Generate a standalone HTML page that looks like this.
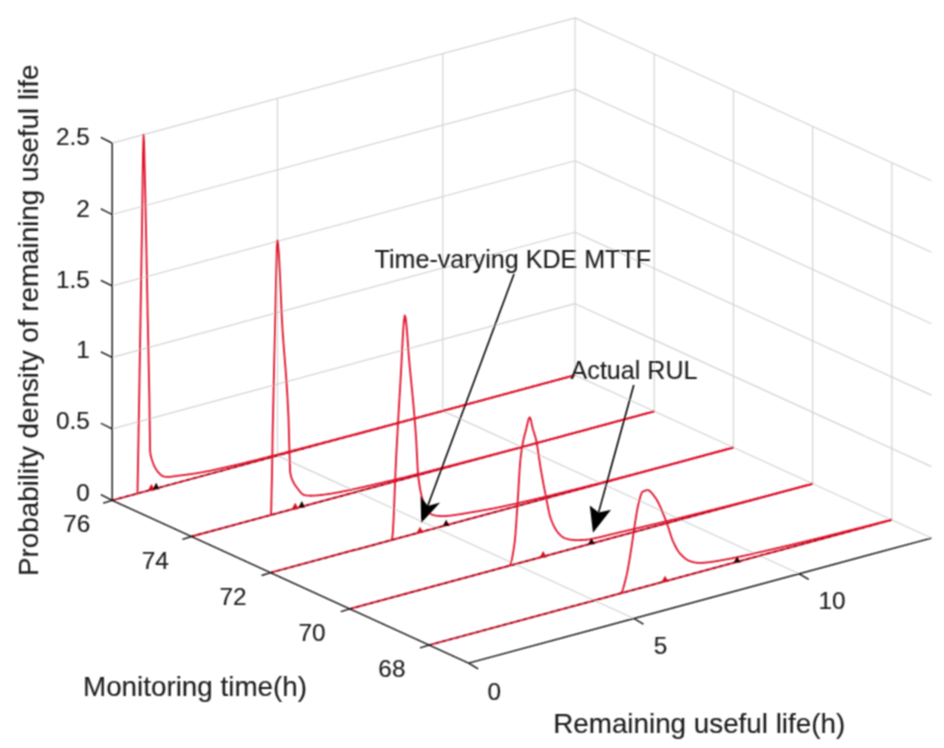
<!DOCTYPE html>
<html><head><meta charset="utf-8"><style>
html,body{margin:0;padding:0;background:#fff;}
svg{display:block;font-family:"Liberation Sans",sans-serif;}
</style></head><body>
<svg width="944" height="748" viewBox="0 0 944 748">
<defs><filter id="bl" filterUnits="userSpaceOnUse" x="0" y="0" width="944" height="748"><feConvolveMatrix order="3" kernelMatrix="1 2 1 2 4 2 1 2 1" divisor="16" preserveAlpha="false" edgeMode="none"/></filter></defs>
<rect width="944" height="748" fill="#fff"/>
<g filter="url(#bl)">
<line x1="112.20" y1="500.30" x2="575.04" y2="375.14" stroke="#d4d4d4" stroke-width="1.2"/>
<line x1="112.20" y1="428.85" x2="575.04" y2="303.69" stroke="#d4d4d4" stroke-width="1.2"/>
<line x1="112.20" y1="357.40" x2="575.04" y2="232.24" stroke="#d4d4d4" stroke-width="1.2"/>
<line x1="112.20" y1="285.95" x2="575.04" y2="160.79" stroke="#d4d4d4" stroke-width="1.2"/>
<line x1="112.20" y1="214.50" x2="575.04" y2="89.34" stroke="#d4d4d4" stroke-width="1.2"/>
<line x1="112.20" y1="143.05" x2="575.04" y2="17.89" stroke="#d4d4d4" stroke-width="1.2"/>
<line x1="112.20" y1="500.30" x2="112.20" y2="143.05" stroke="#d4d4d4" stroke-width="1.2"/>
<line x1="277.50" y1="455.60" x2="277.50" y2="98.35" stroke="#d4d4d4" stroke-width="1.2"/>
<line x1="442.80" y1="410.90" x2="442.80" y2="53.65" stroke="#d4d4d4" stroke-width="1.2"/>
<line x1="575.04" y1="375.14" x2="931.44" y2="538.04" stroke="#d4d4d4" stroke-width="1.2"/>
<line x1="575.04" y1="303.69" x2="931.44" y2="466.59" stroke="#d4d4d4" stroke-width="1.2"/>
<line x1="575.04" y1="232.24" x2="931.44" y2="395.14" stroke="#d4d4d4" stroke-width="1.2"/>
<line x1="575.04" y1="160.79" x2="931.44" y2="323.69" stroke="#d4d4d4" stroke-width="1.2"/>
<line x1="575.04" y1="89.34" x2="931.44" y2="252.24" stroke="#d4d4d4" stroke-width="1.2"/>
<line x1="575.04" y1="17.89" x2="931.44" y2="180.79" stroke="#d4d4d4" stroke-width="1.2"/>
<line x1="575.04" y1="375.14" x2="575.04" y2="17.89" stroke="#d4d4d4" stroke-width="1.2"/>
<line x1="654.24" y1="411.34" x2="654.24" y2="54.09" stroke="#d4d4d4" stroke-width="1.2"/>
<line x1="733.44" y1="447.54" x2="733.44" y2="90.29" stroke="#d4d4d4" stroke-width="1.2"/>
<line x1="812.64" y1="483.74" x2="812.64" y2="126.49" stroke="#d4d4d4" stroke-width="1.2"/>
<line x1="891.84" y1="519.94" x2="891.84" y2="162.69" stroke="#d4d4d4" stroke-width="1.2"/>
<line x1="277.50" y1="455.60" x2="633.90" y2="618.50" stroke="#d4d4d4" stroke-width="1.2"/>
<line x1="442.80" y1="410.90" x2="799.20" y2="573.80" stroke="#d4d4d4" stroke-width="1.2"/>
<line x1="112.20" y1="500.30" x2="575.04" y2="375.14" stroke="#e0122c" stroke-width="1.9"/>
<line x1="112.20" y1="500.30" x2="575.04" y2="375.14" stroke="#3a0810" stroke-width="1.3" stroke-dasharray="3 4" opacity="0.9"/>
<polyline points="137.49,493.46 138.32,446.08 138.59,431.01 139.14,399.84 139.68,367.63 140.63,309.70 140.78,300.76 141.88,235.50 142.05,224.86 142.97,154.65 143.51,134.58 144.07,142.84 145.17,189.85 145.89,225.11 146.26,242.58 147.36,299.76 147.74,319.21 148.46,352.46 149.39,399.93 149.55,412.29 150.09,450.76 150.65,455.27 151.75,459.16 152.10,460.21 152.84,462.53 153.94,465.33 154.72,466.94 155.04,467.54 156.13,469.39 157.23,470.97 158.33,472.31 158.81,472.83 159.42,473.47 160.52,474.56 161.62,475.51 162.71,476.20 163.41,476.45 163.81,476.54 164.91,476.73 166.00,476.85 167.10,476.91 168.20,476.90 169.29,476.86 169.99,476.81 170.39,476.78 171.49,476.67 172.58,476.54 173.68,476.39 174.78,476.22 175.87,476.06 176.97,475.89 178.07,475.74 178.32,475.70 179.16,475.60 180.26,475.46 181.36,475.33 182.45,475.19 183.55,475.06 184.65,474.93 185.74,474.79 186.84,474.65 187.94,474.51 189.03,474.35 189.23,474.33 190.13,474.19 191.23,474.03 192.32,473.87 193.42,473.71 194.51,473.54 195.61,473.38 196.71,473.21 197.80,473.03 198.90,472.85 200.00,472.67 201.09,472.48 202.19,472.29 203.29,472.09 204.38,471.89 205.10,471.75 205.48,471.67 206.58,471.46 207.67,471.24 208.77,471.02 209.87,470.80 210.96,470.58 212.06,470.35 213.16,470.13 214.25,469.90 215.35,469.66 216.45,469.43 217.54,469.20 218.64,468.96 219.74,468.72 220.83,468.48 221.93,468.23 223.03,467.99 224.12,467.74 225.22,467.49 226.32,467.24 227.41,466.98 227.91,466.87 228.51,466.73 229.61,466.47 230.70,466.21 231.80,465.95 232.90,465.69 233.99,465.43 235.09,465.17 236.19,464.91 237.28,464.64 238.38,464.38 239.48,464.11 240.57,463.85 241.67,463.58 242.77,463.32 243.86,463.05 244.96,462.78 246.06,462.51 247.15,462.24 248.25,461.97 249.35,461.70 250.44,461.43 251.54,461.16 252.64,460.88 253.73,460.61 254.83,460.33 255.93,460.06 257.02,459.78 258.12,459.51 259.22,459.23 260.31,458.95 260.97,458.78 261.41,458.67 262.50,458.39 263.60,458.11 264.70,457.83 265.79,457.56 266.89,457.28 267.99,456.99 269.08,456.71 270.18,456.43 271.28,456.15 272.37,455.87 273.47,455.59 274.57,455.31 275.66,455.02 276.76,454.74 277.86,454.46 278.95,454.18 280.05,453.89 281.15,453.61 282.24,453.33 283.34,453.04 284.44,452.76 285.53,452.47 286.63,452.19 287.73,451.90 288.82,451.62 289.92,451.34 291.02,451.05 292.11,450.76 293.21,450.48 294.31,450.19 295.40,449.91 296.50,449.62 297.60,449.34 298.69,449.05 299.79,448.76 300.89,448.48 301.98,448.19 303.08,447.90 304.18,447.62 305.27,447.33 306.37,447.04 307.47,446.76 308.56,446.47 309.66,446.18 310.56,445.95 310.76,445.89 311.85,445.61 312.95,445.32 314.05,445.03 315.14,444.74 316.24,444.46 317.34,444.17 318.43,443.88 319.53,443.59 320.63,443.30 321.72,443.02 322.82,442.73 323.92,442.44 325.01,442.15 326.11,441.86 327.21,441.57 328.30,441.29 329.40,441.00 330.50,440.71 331.59,440.42 332.69,440.13 333.78,439.84 334.88,439.55 335.98,439.26 337.07,438.97 338.17,438.68 339.27,438.40 340.36,438.11 341.46,437.82 342.56,437.53 343.65,437.24 344.75,436.95 345.85,436.66 346.94,436.37 348.04,436.08 349.14,435.79 350.23,435.50 351.33,435.21 352.43,434.92 353.52,434.63 354.62,434.34 355.72,434.05 356.81,433.76 357.91,433.47 359.01,433.18 360.10,432.89 361.20,432.60 362.30,432.31 363.39,432.02 364.49,431.73 365.59,431.44 366.68,431.14 367.78,430.85 368.88,430.56 369.97,430.27 371.07,429.98 372.17,429.69 373.26,429.40 374.36,429.11 375.46,428.82 376.55,428.53 376.68,428.49 377.65,428.24 378.75,427.95 379.84,427.66 380.94,427.37 382.04,427.07 383.13,426.78 384.23,426.49 385.33,426.20 386.42,425.91 387.52,425.62 388.62,425.33 389.71,425.04 390.81,424.75 391.91,424.46 393.00,424.17 394.10,423.88 395.20,423.59 396.29,423.30 397.39,423.01 398.49,422.72 399.58,422.43 400.68,422.14 401.77,421.85 402.87,421.56 403.97,421.27 405.06,420.98 406.16,420.69 407.26,420.40 408.35,420.11 409.45,419.82 410.55,419.53 411.64,419.23 412.74,418.94 413.84,418.65 414.93,418.36 416.03,418.07 417.13,417.78 418.22,417.49 419.32,417.19 420.42,416.90 421.51,416.61 422.61,416.32 423.71,416.03 424.80,415.73 425.90,415.44 427.00,415.15 428.09,414.85 429.19,414.56 430.29,414.27 431.38,413.97 432.48,413.68 433.58,413.38 434.67,413.09 435.77,412.80 436.87,412.50 437.96,412.21 439.06,411.91 440.16,411.61 441.25,411.32 442.35,411.02 442.80,410.90 443.45,410.73 444.54,410.43 445.64,410.13 446.74,409.84 447.83,409.54 448.93,409.24 450.03,408.95 451.12,408.65 452.22,408.35 453.32,408.06 454.41,407.76 455.51,407.46 456.61,407.17 457.70,406.87 458.80,406.57 459.90,406.28 460.99,405.98 462.09,405.68 463.19,405.39 464.28,405.09 465.38,404.79 466.48,404.50 467.57,404.20 468.67,403.90 469.77,403.61 470.86,403.31 471.96,403.02 473.05,402.72 474.15,402.42 475.25,402.13 476.34,401.83 477.44,401.53 478.54,401.24 479.63,400.94 480.73,400.64 481.83,400.35 482.92,400.05 484.02,399.75 485.12,399.46 486.21,399.16 487.31,398.86 488.41,398.57 489.50,398.27 490.60,397.97 491.70,397.68 492.79,397.38 493.89,397.08 494.99,396.79 496.08,396.49 497.18,396.19 498.28,395.90 499.37,395.60 500.47,395.30 501.57,395.01 502.66,394.71 503.76,394.42 504.86,394.12 505.95,393.82 507.05,393.53 508.15,393.23 509.24,392.93 510.34,392.64 511.44,392.34 512.53,392.04 513.63,391.75 514.73,391.45 515.82,391.15 516.92,390.86 518.02,390.56 519.11,390.26 520.21,389.97 521.31,389.67 522.40,389.37 523.50,389.08 524.60,388.78 525.69,388.48 526.79,388.19 527.89,387.89 528.98,387.59 530.08,387.30 531.18,387.00 532.27,386.71 533.37,386.41 534.47,386.11 535.56,385.82 536.66,385.52 537.76,385.22 538.85,384.93 539.95,384.63 541.04,384.33 542.14,384.04 543.24,383.74 544.33,383.44 545.43,383.15 546.53,382.85 547.62,382.55 548.72,382.26 549.82,381.96 550.91,381.66 552.01,381.37 553.11,381.07 554.20,380.77 555.30,380.48 556.40,380.18 557.49,379.88 558.59,379.59 559.69,379.29 560.78,379.00 561.88,378.70 562.98,378.40 564.07,378.11 565.17,377.81 566.27,377.51 567.36,377.22 568.46,376.92 569.56,376.62 570.65,376.33 571.75,376.03 572.85,375.73 573.94,375.44 575.04,375.14" fill="none" stroke="#e0122c" stroke-width="1.8" stroke-linejoin="round"/>
<polygon points="148.01,490.50 154.81,490.50 151.41,484.10" fill="#d00818"/>
<polygon points="152.77,489.21 159.57,489.21 156.17,482.81" fill="#200606"/>
<line x1="191.40" y1="536.50" x2="654.24" y2="411.34" stroke="#e0122c" stroke-width="1.9"/>
<line x1="191.40" y1="536.50" x2="654.24" y2="411.34" stroke="#3a0810" stroke-width="1.3" stroke-dasharray="3 4" opacity="0.9"/>
<polyline points="271.07,514.95 272.03,472.58 272.73,428.77 273.00,416.17 273.96,373.32 274.92,333.23 275.04,328.11 275.88,288.33 276.84,248.02 277.36,240.32 277.80,241.56 278.76,252.23 279.72,270.51 280.68,292.33 281.64,313.63 282.31,326.14 282.60,330.58 283.56,344.13 284.52,356.28 285.48,368.23 286.44,381.19 287.40,396.37 288.36,414.96 288.60,420.19 289.32,447.94 290.08,471.52 290.28,472.79 291.24,477.26 292.20,479.78 293.16,481.68 293.22,481.81 294.12,483.58 295.08,485.15 296.04,486.49 296.86,487.55 297.00,487.73 297.96,488.99 298.92,490.26 299.88,491.49 300.84,492.61 301.80,493.59 302.76,494.36 303.73,494.88 304.13,495.01 304.69,495.14 305.65,495.33 306.61,495.48 307.57,495.59 308.53,495.67 309.49,495.71 310.45,495.73 311.41,495.73 312.37,495.70 313.33,495.66 314.29,495.60 315.25,495.53 316.21,495.45 317.03,495.38 317.17,495.37 318.13,495.28 319.09,495.19 320.05,495.09 321.01,494.99 321.97,494.88 322.93,494.77 323.89,494.66 324.85,494.53 325.81,494.41 326.77,494.28 327.73,494.14 328.69,494.00 329.65,493.85 330.61,493.71 331.57,493.55 332.53,493.40 333.50,493.23 334.46,493.07 335.42,492.90 336.38,492.73 337.34,492.55 338.30,492.37 339.26,492.19 339.84,492.07 340.22,492.00 341.18,491.81 342.14,491.62 343.10,491.42 344.06,491.23 345.02,491.03 345.98,490.84 346.94,490.64 347.90,490.44 348.86,490.23 349.82,490.03 350.78,489.82 351.74,489.62 352.70,489.41 353.66,489.20 354.62,488.99 355.58,488.78 356.54,488.57 357.50,488.36 358.46,488.14 359.42,487.93 360.38,487.71 361.34,487.49 362.30,487.28 363.26,487.06 364.23,486.84 365.19,486.62 366.15,486.40 367.11,486.18 368.07,485.96 369.03,485.73 369.99,485.51 370.95,485.29 371.91,485.07 372.87,484.84 373.23,484.76 373.83,484.62 374.79,484.39 375.75,484.17 376.71,483.95 377.67,483.72 378.63,483.50 379.59,483.27 380.55,483.05 381.51,482.82 382.47,482.60 383.43,482.37 384.39,482.14 385.35,481.92 386.31,481.69 387.27,481.46 388.23,481.24 389.19,481.01 390.15,480.78 391.11,480.55 392.07,480.33 393.03,480.10 393.99,479.87 394.96,479.64 395.92,479.41 396.88,479.18 397.84,478.95 398.80,478.72 399.76,478.48 400.72,478.25 401.68,478.02 402.64,477.79 403.60,477.55 404.56,477.32 405.52,477.08 406.48,476.85 407.44,476.62 408.40,476.38 409.36,476.14 410.32,475.91 411.28,475.67 412.24,475.43 413.20,475.19 414.16,474.95 415.12,474.72 416.08,474.48 417.04,474.24 418.00,473.99 418.96,473.75 419.92,473.51 420.88,473.27 421.84,473.02 422.80,472.78 422.82,472.78 423.76,472.54 424.72,472.29 425.69,472.05 426.65,471.80 427.61,471.56 428.57,471.31 429.53,471.07 430.49,470.82 431.45,470.57 432.41,470.33 433.37,470.08 434.33,469.83 435.29,469.59 436.25,469.34 437.21,469.09 438.17,468.85 439.13,468.60 440.09,468.35 441.05,468.10 442.01,467.86 442.97,467.61 443.93,467.36 444.89,467.11 445.85,466.86 446.81,466.61 447.77,466.37 448.73,466.12 449.69,465.87 450.65,465.62 451.61,465.37 452.57,465.12 453.53,464.87 454.49,464.62 455.45,464.37 456.42,464.12 457.38,463.87 458.34,463.62 459.30,463.37 460.26,463.12 461.22,462.87 462.18,462.62 463.14,462.37 464.10,462.12 465.06,461.87 466.02,461.62 466.98,461.36 467.94,461.11 468.90,460.86 469.86,460.61 470.82,460.36 471.78,460.11 472.74,459.86 473.70,459.61 474.66,459.35 475.62,459.10 476.58,458.85 477.54,458.60 478.50,458.35 479.46,458.10 480.42,457.84 481.38,457.59 482.34,457.34 483.30,457.09 484.26,456.84 485.22,456.59 486.19,456.33 487.15,456.08 488.11,455.83 488.94,455.61 489.07,455.58 490.03,455.33 490.99,455.07 491.95,454.82 492.91,454.57 493.87,454.32 494.83,454.07 495.79,453.82 496.75,453.57 497.71,453.31 498.67,453.06 499.63,452.81 500.59,452.56 501.55,452.31 502.51,452.06 503.47,451.81 504.43,451.56 505.39,451.30 506.35,451.05 507.31,450.80 508.27,450.55 509.23,450.30 510.19,450.05 511.15,449.80 512.11,449.55 513.07,449.29 514.03,449.04 514.99,448.79 515.95,448.54 516.92,448.29 517.88,448.04 518.84,447.78 519.80,447.53 520.76,447.28 521.72,447.03 522.68,446.77 523.64,446.52 524.60,446.27 525.56,446.02 526.52,445.76 527.48,445.51 528.44,445.26 529.40,445.00 530.36,444.75 531.32,444.50 532.28,444.24 533.24,443.99 534.20,443.74 535.16,443.48 536.12,443.23 537.08,442.97 538.04,442.72 539.00,442.46 539.96,442.21 540.92,441.95 541.88,441.70 542.84,441.44 543.80,441.18 544.76,440.93 545.72,440.67 546.68,440.41 547.65,440.16 548.61,439.90 549.57,439.64 550.53,439.38 551.49,439.12 552.45,438.87 553.41,438.61 554.37,438.35 555.06,438.16 555.33,438.09 556.29,437.83 557.25,437.57 558.21,437.31 559.17,437.05 560.13,436.79 561.09,436.53 562.05,436.27 563.01,436.01 563.97,435.75 564.93,435.49 565.89,435.23 566.85,434.97 567.81,434.71 568.77,434.45 569.73,434.19 570.69,433.93 571.65,433.67 572.61,433.41 573.57,433.15 574.53,432.89 575.49,432.63 576.45,432.37 577.41,432.11 578.38,431.86 579.34,431.60 580.30,431.34 581.26,431.08 582.22,430.82 583.18,430.56 584.14,430.30 585.10,430.04 586.06,429.78 587.02,429.52 587.98,429.26 588.94,429.00 589.90,428.74 590.86,428.48 591.82,428.22 592.78,427.96 593.74,427.70 594.70,427.44 595.66,427.18 596.62,426.92 597.58,426.66 598.54,426.40 599.50,426.14 600.46,425.88 601.42,425.62 602.38,425.36 603.34,425.10 604.30,424.84 605.26,424.58 606.22,424.32 607.18,424.06 608.14,423.80 609.11,423.55 610.07,423.29 611.03,423.03 611.99,422.77 612.95,422.51 613.91,422.25 614.87,421.99 615.83,421.73 616.79,421.47 617.75,421.21 618.71,420.95 619.67,420.69 620.63,420.43 621.59,420.17 622.55,419.91 623.51,419.65 624.47,419.39 625.43,419.13 626.39,418.87 627.35,418.61 628.31,418.35 629.27,418.09 630.23,417.83 631.19,417.57 632.15,417.31 633.11,417.05 634.07,416.79 635.03,416.53 635.99,416.27 636.95,416.01 637.91,415.75 638.87,415.49 639.84,415.24 640.80,414.98 641.76,414.72 642.72,414.46 643.68,414.20 644.64,413.94 645.60,413.68 646.56,413.42 647.52,413.16 648.48,412.90 649.44,412.64 650.40,412.38 651.36,412.12 652.32,411.86 653.28,411.60 654.24,411.34" fill="none" stroke="#e0122c" stroke-width="1.8" stroke-linejoin="round"/>
<polygon points="291.81,509.23 298.61,509.23 295.21,502.83" fill="#d00818"/>
<polygon points="298.42,507.44 305.22,507.44 301.82,501.04" fill="#200606"/>
<line x1="270.60" y1="572.70" x2="733.44" y2="447.54" stroke="#e0122c" stroke-width="1.9"/>
<line x1="270.60" y1="572.70" x2="733.44" y2="447.54" stroke="#3a0810" stroke-width="1.3" stroke-dasharray="3 4" opacity="0.9"/>
<polyline points="391.93,539.89 392.79,533.60 393.64,517.94 394.50,497.05 395.35,475.09 396.21,456.18 396.23,455.85 397.07,440.45 397.92,424.98 398.78,409.86 399.63,395.17 400.49,380.97 400.53,380.38 401.35,365.52 402.20,348.46 403.06,332.58 403.91,320.67 404.77,315.51 404.82,315.48 405.62,317.96 406.48,325.40 407.34,335.97 408.19,347.82 409.05,359.09 409.45,363.67 409.90,368.38 410.76,377.10 411.62,385.74 412.47,394.52 413.33,403.63 414.18,413.29 414.74,419.97 415.04,423.71 415.90,435.44 416.20,440.01 416.75,450.57 417.61,468.08 418.01,473.68 418.46,477.80 419.32,484.26 420.18,489.28 421.03,493.35 421.68,496.12 421.89,496.95 422.74,500.30 423.60,503.32 424.45,505.92 425.31,508.02 425.98,509.25 426.17,509.53 427.02,510.71 427.88,511.72 428.73,512.57 429.59,513.27 430.45,513.83 431.27,514.25 431.30,514.26 432.16,514.61 433.01,514.91 433.87,515.16 434.73,515.37 435.58,515.54 436.44,515.68 437.29,515.79 438.15,515.88 439.01,515.95 439.21,515.96 439.86,516.00 440.72,516.04 441.57,516.07 442.43,516.08 443.29,516.09 444.14,516.07 445.00,516.05 445.85,516.01 446.71,515.95 447.56,515.89 448.13,515.83 448.42,515.80 449.28,515.71 450.13,515.62 450.99,515.52 451.84,515.42 452.70,515.31 453.56,515.20 454.41,515.08 455.27,514.96 456.12,514.84 456.98,514.71 457.84,514.58 458.69,514.45 459.55,514.32 460.40,514.18 461.26,514.04 462.12,513.90 462.97,513.76 463.83,513.61 464.68,513.47 465.54,513.32 466.39,513.17 467.25,513.03 468.11,512.88 468.96,512.73 469.82,512.58 470.67,512.44 471.53,512.29 472.27,512.16 472.39,512.14 473.24,512.00 474.10,511.85 474.95,511.71 475.81,511.56 476.67,511.42 477.52,511.27 478.38,511.13 479.23,510.98 480.09,510.83 480.95,510.68 481.80,510.53 482.66,510.38 483.51,510.23 484.37,510.08 485.22,509.93 486.08,509.78 486.94,509.62 487.79,509.47 488.65,509.31 489.50,509.16 490.36,509.00 491.22,508.84 492.07,508.67 492.93,508.51 493.78,508.35 494.64,508.18 495.50,508.01 496.35,507.84 497.21,507.67 498.06,507.49 498.92,507.32 499.78,507.14 500.04,507.08 500.63,506.96 501.49,506.78 502.34,506.60 503.20,506.41 504.05,506.23 504.91,506.05 505.77,505.86 506.62,505.68 507.48,505.49 508.33,505.31 509.19,505.12 510.05,504.93 510.90,504.74 511.76,504.55 512.61,504.37 513.47,504.18 514.33,503.98 515.18,503.79 516.04,503.60 516.89,503.41 517.75,503.22 518.61,503.02 519.46,502.83 520.32,502.63 521.17,502.44 522.03,502.24 522.89,502.04 523.74,501.85 524.60,501.65 525.45,501.45 526.31,501.25 527.16,501.05 528.02,500.85 528.88,500.65 529.73,500.45 530.59,500.25 531.44,500.05 532.30,499.84 533.16,499.64 534.01,499.43 534.87,499.23 535.08,499.18 535.72,499.03 536.58,498.82 537.44,498.61 538.29,498.41 539.15,498.20 540.00,498.00 540.86,497.79 541.72,497.58 542.57,497.38 543.43,497.17 544.28,496.96 545.14,496.75 545.99,496.55 546.85,496.34 547.71,496.13 548.56,495.92 549.42,495.71 550.27,495.50 551.13,495.29 551.99,495.09 552.84,494.88 553.70,494.67 554.55,494.46 555.41,494.24 556.27,494.03 557.12,493.82 557.98,493.61 558.83,493.40 559.69,493.19 560.55,492.98 561.40,492.77 562.26,492.55 563.11,492.34 563.97,492.13 564.82,491.91 565.68,491.70 566.54,491.49 567.39,491.27 568.25,491.06 569.10,490.85 569.96,490.63 570.82,490.42 571.67,490.20 572.53,489.99 573.38,489.77 574.24,489.56 575.10,489.34 575.95,489.12 576.81,488.91 577.66,488.69 578.52,488.48 579.38,488.26 580.23,488.04 581.09,487.82 581.94,487.61 582.80,487.39 583.65,487.17 584.51,486.95 584.67,486.91 585.37,486.73 586.22,486.52 587.08,486.30 587.93,486.08 588.79,485.86 589.65,485.64 590.50,485.42 591.36,485.20 592.21,484.98 593.07,484.76 593.93,484.55 594.78,484.33 595.64,484.11 596.49,483.89 597.35,483.67 598.21,483.45 599.06,483.23 599.92,483.01 600.77,482.79 601.63,482.56 602.49,482.34 603.34,482.12 604.20,481.90 605.05,481.68 605.91,481.46 606.76,481.24 607.62,481.02 608.48,480.80 609.33,480.58 610.19,480.35 611.04,480.13 611.90,479.91 612.76,479.69 613.61,479.47 614.47,479.24 615.32,479.02 616.18,478.80 617.04,478.58 617.89,478.35 618.75,478.13 619.60,477.91 620.46,477.69 621.32,477.46 622.17,477.24 623.03,477.02 623.88,476.79 624.74,476.57 625.59,476.35 626.45,476.12 627.31,475.90 628.16,475.67 629.02,475.45 629.87,475.22 630.73,475.00 631.59,474.78 632.44,474.55 633.30,474.33 634.15,474.10 634.26,474.07 635.01,473.88 635.87,473.65 636.72,473.43 637.58,473.20 638.43,472.98 639.29,472.75 640.15,472.53 641.00,472.30 641.86,472.08 642.71,471.86 643.57,471.63 644.42,471.41 645.28,471.18 646.14,470.96 646.99,470.73 647.85,470.51 648.70,470.28 649.56,470.06 650.42,469.83 651.27,469.61 652.13,469.38 652.98,469.16 653.84,468.93 654.70,468.71 655.55,468.48 656.41,468.26 657.26,468.03 658.12,467.81 658.98,467.58 659.83,467.35 660.69,467.13 661.54,466.90 662.40,466.68 663.26,466.45 664.11,466.22 664.97,466.00 665.82,465.77 666.68,465.54 667.53,465.32 668.39,465.09 669.25,464.86 670.10,464.64 670.96,464.41 671.81,464.18 672.67,463.95 673.53,463.72 674.38,463.49 675.24,463.27 676.09,463.04 676.95,462.81 677.81,462.58 678.66,462.35 679.52,462.12 680.37,461.89 681.23,461.66 682.09,461.43 682.94,461.20 683.80,460.96 683.85,460.95 684.65,460.73 685.51,460.50 686.36,460.27 687.22,460.04 688.08,459.81 688.93,459.58 689.79,459.34 690.64,459.11 691.50,458.88 692.36,458.65 693.21,458.42 694.07,458.19 694.92,457.96 695.78,457.72 696.64,457.49 697.49,457.26 698.35,457.03 699.20,456.80 700.06,456.57 700.92,456.34 701.77,456.10 702.63,455.87 703.48,455.64 704.34,455.41 705.19,455.18 706.05,454.95 706.91,454.72 707.76,454.48 708.62,454.25 709.47,454.02 710.33,453.79 711.19,453.56 712.04,453.33 712.90,453.09 713.75,452.86 714.61,452.63 715.47,452.40 716.32,452.17 717.18,451.94 718.03,451.71 718.89,451.47 719.75,451.24 720.60,451.01 721.46,450.78 722.31,450.55 723.17,450.32 724.02,450.09 724.88,449.85 725.74,449.62 726.59,449.39 727.45,449.16 728.30,448.93 729.16,448.70 730.02,448.47 730.87,448.23 731.73,448.00 732.58,447.77 733.44,447.54" fill="none" stroke="#e0122c" stroke-width="1.8" stroke-linejoin="round"/>
<polygon points="416.63,533.09 423.43,533.09 420.03,526.69" fill="#d00818"/>
<polygon points="442.75,526.03 449.55,526.03 446.15,519.63" fill="#200606"/>
<line x1="349.80" y1="608.90" x2="812.64" y2="483.74" stroke="#e0122c" stroke-width="1.9"/>
<line x1="349.80" y1="608.90" x2="812.64" y2="483.74" stroke="#3a0810" stroke-width="1.3" stroke-dasharray="3 4" opacity="0.9"/>
<polyline points="509.48,565.72 510.24,564.87 511.00,562.87 511.76,559.89 512.52,556.11 513.28,551.71 514.04,546.89 514.44,544.23 514.80,541.35 515.56,532.74 516.32,521.97 517.08,510.56 517.41,505.70 517.84,499.31 518.60,486.45 519.36,473.62 520.12,462.93 520.39,460.02 520.88,455.67 521.64,449.94 522.40,445.22 522.70,443.54 523.16,441.24 523.92,437.82 524.68,434.77 525.44,431.92 526.01,429.78 526.20,429.06 526.96,425.81 527.72,422.46 528.47,419.59 529.23,417.74 529.65,417.37 529.99,417.55 530.75,419.50 531.51,422.81 532.27,426.50 532.95,429.33 533.03,429.61 533.79,432.07 534.55,434.40 535.31,436.89 536.07,439.83 536.09,439.92 536.83,443.55 537.59,448.05 538.35,453.05 539.11,458.26 539.87,463.43 540.63,468.27 540.89,469.77 541.39,472.64 542.15,476.88 542.91,481.01 543.67,485.05 544.43,489.00 545.19,492.87 545.85,496.15 545.95,496.68 546.71,500.59 547.47,504.59 548.23,508.50 548.99,512.13 549.75,515.31 550.47,517.77 550.51,517.87 551.27,519.99 552.03,521.95 552.79,523.76 553.55,525.42 554.31,526.93 555.07,528.32 555.83,529.57 556.59,530.71 557.35,531.73 557.75,532.23 558.11,532.66 558.87,533.54 559.63,534.36 560.39,535.12 561.15,535.82 561.91,536.46 562.67,537.02 563.43,537.51 564.19,537.92 564.95,538.24 565.02,538.27 565.71,538.50 566.46,538.74 567.22,538.95 567.98,539.14 568.74,539.31 569.50,539.45 570.26,539.58 571.02,539.70 571.78,539.79 572.54,539.87 573.30,539.94 574.06,539.99 574.82,540.03 575.58,540.05 576.34,540.07 577.10,540.07 577.86,540.07 577.91,540.07 578.62,540.06 579.38,540.05 580.14,540.04 580.90,540.02 581.66,540.00 582.42,539.97 583.18,539.94 583.94,539.90 584.70,539.85 585.46,539.80 586.22,539.73 586.98,539.66 587.74,539.57 588.50,539.48 589.26,539.37 590.02,539.25 590.78,539.11 591.47,538.98 591.54,538.96 592.30,538.80 593.06,538.64 593.82,538.48 594.58,538.32 595.34,538.15 596.10,537.98 596.86,537.81 597.62,537.64 598.38,537.47 599.14,537.29 599.90,537.12 600.66,536.94 601.42,536.76 602.18,536.58 602.94,536.40 603.70,536.22 604.45,536.04 605.21,535.85 605.97,535.67 606.73,535.49 607.49,535.30 608.25,535.12 609.01,534.93 609.77,534.74 610.53,534.56 611.29,534.37 612.05,534.19 612.81,534.00 613.57,533.81 614.33,533.63 615.09,533.44 615.85,533.26 616.61,533.07 617.37,532.89 618.13,532.71 618.89,532.53 619.65,532.35 619.90,532.29 620.41,532.17 621.17,531.99 621.93,531.81 622.69,531.63 623.45,531.45 624.21,531.27 624.97,531.09 625.73,530.91 626.49,530.73 627.25,530.55 628.01,530.37 628.77,530.19 629.53,530.01 630.29,529.83 631.05,529.66 631.81,529.48 632.57,529.30 633.33,529.12 634.09,528.94 634.85,528.76 635.61,528.58 636.37,528.40 637.13,528.22 637.89,528.04 638.65,527.86 639.41,527.68 640.17,527.50 640.93,527.32 641.69,527.14 642.44,526.96 643.20,526.78 643.96,526.60 644.72,526.42 645.48,526.24 646.24,526.06 647.00,525.88 647.76,525.70 648.52,525.52 649.28,525.34 650.04,525.16 650.80,524.97 651.56,524.79 652.32,524.61 653.08,524.43 653.84,524.25 654.60,524.07 655.36,523.88 656.12,523.70 656.88,523.52 657.64,523.33 658.40,523.15 659.16,522.97 659.92,522.78 660.68,522.60 661.44,522.42 662.20,522.23 662.96,522.05 663.72,521.86 663.87,521.83 664.48,521.68 665.24,521.49 666.00,521.31 666.76,521.12 667.52,520.94 668.28,520.75 669.04,520.57 669.80,520.38 670.56,520.20 671.32,520.01 672.08,519.83 672.84,519.64 673.60,519.45 674.36,519.27 675.12,519.08 675.88,518.90 676.64,518.71 677.40,518.52 678.16,518.34 678.92,518.15 679.67,517.96 680.43,517.78 681.19,517.59 681.95,517.40 682.71,517.22 683.47,517.03 684.23,516.84 684.99,516.66 685.75,516.47 686.51,516.28 687.27,516.09 688.03,515.91 688.79,515.72 689.55,515.53 690.31,515.34 691.07,515.16 691.83,514.97 692.59,514.78 693.35,514.59 694.11,514.40 694.87,514.21 695.63,514.03 696.39,513.84 697.15,513.65 697.91,513.46 698.67,513.27 699.43,513.08 700.19,512.89 700.95,512.70 701.71,512.51 702.47,512.32 703.23,512.13 703.99,511.94 704.75,511.75 705.51,511.56 706.27,511.37 707.03,511.18 707.79,510.99 708.55,510.80 709.31,510.61 710.07,510.42 710.83,510.22 711.59,510.03 712.35,509.84 713.11,509.65 713.46,509.56 713.87,509.46 714.63,509.27 715.39,509.07 716.15,508.88 716.91,508.69 717.66,508.50 718.42,508.30 719.18,508.11 719.94,507.92 720.70,507.73 721.46,507.54 722.22,507.34 722.98,507.15 723.74,506.96 724.50,506.77 725.26,506.57 726.02,506.38 726.78,506.19 727.54,506.00 728.30,505.80 729.06,505.61 729.82,505.42 730.58,505.22 731.34,505.03 732.10,504.84 732.86,504.65 733.62,504.45 734.38,504.26 735.14,504.07 735.90,503.87 736.66,503.68 737.42,503.48 738.18,503.29 738.94,503.10 739.70,502.90 740.46,502.71 741.22,502.51 741.98,502.32 742.74,502.12 743.50,501.93 744.26,501.73 745.02,501.54 745.78,501.34 746.54,501.15 747.30,500.95 748.06,500.76 748.82,500.56 749.58,500.37 750.34,500.17 751.10,499.97 751.86,499.78 752.62,499.58 753.38,499.38 754.14,499.19 754.90,498.99 755.66,498.79 756.41,498.60 757.17,498.40 757.93,498.20 758.69,498.00 759.45,497.80 760.21,497.61 760.97,497.41 761.73,497.21 762.49,497.01 763.05,496.86 763.25,496.81 764.01,496.61 764.77,496.41 765.53,496.21 766.29,496.01 767.05,495.81 767.81,495.62 768.57,495.42 769.33,495.22 770.09,495.02 770.85,494.82 771.61,494.62 772.37,494.42 773.13,494.22 773.89,494.02 774.65,493.82 775.41,493.62 776.17,493.42 776.93,493.22 777.69,493.02 778.45,492.82 779.21,492.62 779.97,492.42 780.73,492.22 781.49,492.02 782.25,491.82 783.01,491.62 783.77,491.42 784.53,491.22 785.29,491.02 786.05,490.82 786.81,490.62 787.57,490.42 788.33,490.22 789.09,490.02 789.85,489.82 790.61,489.61 791.37,489.41 792.13,489.21 792.89,489.01 793.65,488.81 794.40,488.61 795.16,488.41 795.92,488.20 796.68,488.00 797.44,487.80 798.20,487.60 798.96,487.40 799.72,487.20 800.48,486.99 801.24,486.79 802.00,486.59 802.76,486.39 803.52,486.18 804.28,485.98 805.04,485.78 805.80,485.57 806.56,485.37 807.32,485.17 808.08,484.96 808.84,484.76 809.60,484.56 810.36,484.35 811.12,484.15 811.88,483.94 812.64,483.74" fill="none" stroke="#e0122c" stroke-width="1.8" stroke-linejoin="round"/>
<polygon points="539.80,557.40 546.60,557.40 543.20,551.00" fill="#d00818"/>
<polygon points="588.07,544.35 594.87,544.35 591.47,537.95" fill="#200606"/>
<line x1="429.00" y1="645.10" x2="891.84" y2="519.94" stroke="#e0122c" stroke-width="1.9"/>
<line x1="429.00" y1="645.10" x2="891.84" y2="519.94" stroke="#3a0810" stroke-width="1.3" stroke-dasharray="3 4" opacity="0.9"/>
<polyline points="620.75,593.25 621.43,592.69 622.11,591.48 622.79,589.73 623.47,587.56 624.15,585.09 624.82,582.45 625.50,579.75 626.04,577.67 626.18,577.10 626.86,574.17 627.54,570.83 628.22,567.15 628.90,563.22 629.58,559.11 630.26,554.89 630.94,550.64 631.33,548.23 631.62,546.38 632.30,541.79 632.98,536.97 633.66,532.14 634.34,527.52 634.63,525.62 635.02,523.20 635.70,518.87 636.37,514.63 637.05,510.65 637.73,507.12 638.27,504.77 638.41,504.20 639.09,501.44 639.77,498.74 640.45,496.26 641.13,494.17 641.81,492.62 642.49,491.79 642.57,491.75 643.17,491.48 643.85,491.19 644.53,490.92 645.21,490.67 645.89,490.44 646.57,490.24 646.87,490.16 647.25,490.09 647.93,490.11 648.60,490.31 649.28,490.67 649.96,491.17 650.64,491.78 651.32,492.49 652.00,493.29 652.68,494.14 653.36,495.03 654.04,495.95 654.72,496.86 655.40,497.75 655.46,497.84 656.08,498.69 656.76,499.77 657.44,500.97 658.12,502.27 658.80,503.67 659.48,505.13 660.15,506.64 660.83,508.20 661.51,509.77 662.19,511.34 662.40,511.82 662.87,512.92 663.55,514.57 664.23,516.29 664.91,518.07 665.59,519.89 666.27,521.74 666.95,523.62 667.63,525.50 667.69,525.68 668.31,527.45 668.99,529.53 669.67,531.69 670.35,533.85 671.03,535.97 671.71,537.97 672.38,539.82 672.98,541.25 673.06,541.44 673.74,542.92 674.42,544.36 675.10,545.74 675.78,547.05 676.46,548.29 677.14,549.47 677.82,550.56 678.50,551.56 679.18,552.48 679.86,553.31 679.93,553.38 680.54,554.06 681.22,554.78 681.90,555.48 682.58,556.14 683.26,556.77 683.93,557.37 684.61,557.94 685.29,558.47 685.97,558.97 686.65,559.43 687.33,559.85 688.01,560.24 688.69,560.58 689.37,560.88 690.05,561.14 690.17,561.18 690.73,561.37 691.41,561.58 692.09,561.78 692.77,561.97 693.45,562.13 694.13,562.29 694.81,562.43 695.49,562.55 696.16,562.65 696.84,562.74 697.52,562.81 698.20,562.87 698.88,562.90 699.56,562.92 700.24,562.91 700.75,562.90 700.92,562.89 701.60,562.86 702.28,562.82 702.96,562.78 703.64,562.73 704.32,562.68 705.00,562.62 705.68,562.56 706.36,562.49 707.04,562.42 707.71,562.35 708.39,562.27 709.07,562.19 709.75,562.11 710.43,562.02 711.11,561.93 711.79,561.84 712.47,561.74 713.15,561.64 713.83,561.54 714.51,561.44 715.19,561.33 715.87,561.23 716.55,561.12 717.23,561.01 717.91,560.89 718.59,560.78 719.27,560.66 719.94,560.55 720.62,560.43 721.30,560.31 721.58,560.26 721.98,560.19 722.66,560.07 723.34,559.95 724.02,559.83 724.70,559.71 725.38,559.58 726.06,559.45 726.74,559.33 727.42,559.20 728.10,559.07 728.78,558.94 729.46,558.80 730.14,558.67 730.82,558.53 731.49,558.40 732.17,558.26 732.85,558.12 733.53,557.98 734.21,557.84 734.89,557.70 735.57,557.56 736.25,557.42 736.93,557.28 737.61,557.13 738.29,556.99 738.97,556.84 739.10,556.81 739.65,556.70 740.33,556.55 741.01,556.40 741.69,556.25 742.37,556.11 743.05,555.96 743.72,555.81 744.40,555.66 745.08,555.51 745.76,555.36 746.44,555.21 747.12,555.06 747.80,554.91 748.48,554.76 749.16,554.61 749.84,554.45 750.52,554.30 751.20,554.15 751.88,554.00 752.56,553.84 753.24,553.69 753.92,553.53 754.60,553.38 755.27,553.22 755.95,553.07 756.63,552.91 757.31,552.76 757.99,552.60 758.67,552.45 759.35,552.29 760.03,552.13 760.71,551.98 761.39,551.82 762.07,551.66 762.75,551.51 763.43,551.35 764.11,551.19 764.79,551.03 765.47,550.87 766.15,550.72 766.83,550.56 767.50,550.40 768.18,550.24 768.86,550.08 769.54,549.92 770.22,549.76 770.90,549.60 771.58,549.44 772.26,549.28 772.94,549.12 773.62,548.96 774.30,548.80 774.98,548.64 775.66,548.48 776.13,548.37 776.34,548.32 777.02,548.16 777.70,548.00 778.38,547.84 779.05,547.68 779.73,547.52 780.41,547.36 781.09,547.20 781.77,547.04 782.45,546.88 783.13,546.72 783.81,546.56 784.49,546.40 785.17,546.23 785.85,546.07 786.53,545.91 787.21,545.75 787.89,545.59 788.57,545.43 789.25,545.27 789.93,545.10 790.61,544.94 791.28,544.78 791.96,544.62 792.64,544.46 793.32,544.29 794.00,544.13 794.68,543.97 795.36,543.81 796.04,543.64 796.72,543.48 797.40,543.32 798.08,543.16 798.76,542.99 799.44,542.83 800.12,542.67 800.80,542.50 801.48,542.34 802.16,542.17 802.83,542.01 803.51,541.85 804.19,541.68 804.87,541.52 805.55,541.35 806.23,541.19 806.91,541.02 807.59,540.86 808.27,540.69 808.95,540.53 809.63,540.36 810.31,540.20 810.99,540.03 811.67,539.87 812.35,539.70 813.03,539.53 813.71,539.37 814.39,539.20 815.06,539.03 815.74,538.87 816.42,538.70 817.10,538.53 817.78,538.36 818.46,538.20 819.14,538.03 819.82,537.86 820.50,537.69 821.18,537.52 821.86,537.35 822.54,537.18 823.22,537.02 823.90,536.85 824.58,536.68 825.26,536.51 825.72,536.39 825.94,536.34 826.61,536.17 827.29,536.00 827.97,535.83 828.65,535.66 829.33,535.49 830.01,535.32 830.69,535.15 831.37,534.98 832.05,534.81 832.73,534.63 833.41,534.46 834.09,534.29 834.77,534.12 835.45,533.95 836.13,533.78 836.81,533.61 837.49,533.44 838.17,533.27 838.84,533.10 839.52,532.93 840.20,532.76 840.88,532.59 841.56,532.42 842.24,532.24 842.92,532.07 843.60,531.90 844.28,531.73 844.96,531.56 845.64,531.39 846.32,531.22 847.00,531.04 847.68,530.87 848.36,530.70 849.04,530.53 849.72,530.36 850.39,530.19 851.07,530.01 851.75,529.84 852.43,529.67 853.11,529.50 853.79,529.32 854.47,529.15 855.15,528.98 855.83,528.81 856.51,528.63 857.19,528.46 857.87,528.29 858.55,528.12 859.23,527.94 859.91,527.77 860.59,527.60 861.27,527.42 861.95,527.25 862.62,527.08 863.30,526.90 863.98,526.73 864.66,526.56 865.34,526.38 866.02,526.21 866.70,526.03 867.38,525.86 868.06,525.69 868.74,525.51 869.42,525.34 870.10,525.16 870.78,524.99 871.46,524.81 872.14,524.64 872.82,524.46 873.50,524.29 874.17,524.11 874.85,523.94 875.53,523.76 876.21,523.59 876.89,523.41 877.57,523.23 878.25,523.06 878.93,522.88 879.61,522.71 880.29,522.53 880.97,522.35 881.65,522.18 882.33,522.00 883.01,521.82 883.69,521.65 884.37,521.47 885.05,521.29 885.73,521.11 886.40,520.94 887.08,520.76 887.76,520.58 888.44,520.40 889.12,520.23 889.80,520.05 890.48,519.87 891.16,519.69 891.84,519.51" fill="none" stroke="#e0122c" stroke-width="1.8" stroke-linejoin="round"/>
<polygon points="661.65,582.07 668.45,582.07 665.05,575.67" fill="#d00818"/>
<polygon points="733.72,562.58 740.52,562.58 737.12,556.18" fill="#200606"/>
<line x1="112.20" y1="500.30" x2="112.20" y2="143.05" stroke="#0d0d0d" stroke-width="1.35"/>
<line x1="112.20" y1="500.30" x2="100.90" y2="494.70" stroke="#0d0d0d" stroke-width="1.35"/>
<line x1="112.20" y1="428.85" x2="100.90" y2="423.25" stroke="#0d0d0d" stroke-width="1.35"/>
<line x1="112.20" y1="357.40" x2="100.90" y2="351.80" stroke="#0d0d0d" stroke-width="1.35"/>
<line x1="112.20" y1="285.95" x2="100.90" y2="280.35" stroke="#0d0d0d" stroke-width="1.35"/>
<line x1="112.20" y1="214.50" x2="100.90" y2="208.90" stroke="#0d0d0d" stroke-width="1.35"/>
<line x1="112.20" y1="143.05" x2="100.90" y2="137.45" stroke="#0d0d0d" stroke-width="1.35"/>
<line x1="112.20" y1="500.30" x2="468.60" y2="663.20" stroke="#0d0d0d" stroke-width="1.35"/>
<line x1="112.20" y1="500.30" x2="103.20" y2="503.10" stroke="#0d0d0d" stroke-width="1.35"/>
<line x1="191.40" y1="536.50" x2="182.40" y2="539.30" stroke="#0d0d0d" stroke-width="1.35"/>
<line x1="270.60" y1="572.70" x2="261.60" y2="575.50" stroke="#0d0d0d" stroke-width="1.35"/>
<line x1="349.80" y1="608.90" x2="340.80" y2="611.70" stroke="#0d0d0d" stroke-width="1.35"/>
<line x1="429.00" y1="645.10" x2="420.00" y2="647.90" stroke="#0d0d0d" stroke-width="1.35"/>
<line x1="468.60" y1="663.20" x2="931.44" y2="538.04" stroke="#0d0d0d" stroke-width="1.35"/>
<line x1="468.60" y1="663.20" x2="478.10" y2="668.80" stroke="#0d0d0d" stroke-width="1.35"/>
<line x1="633.90" y1="618.50" x2="643.40" y2="624.10" stroke="#0d0d0d" stroke-width="1.35"/>
<line x1="799.20" y1="573.80" x2="808.70" y2="579.40" stroke="#0d0d0d" stroke-width="1.35"/>
<text x="0" y="0" font-size="23" text-anchor="end" fill="#1c1c1c" stroke="#1c1c1c" stroke-width="0.12" transform="translate(89.80,501.05) scale(1.06,1)">0</text>
<text x="0" y="0" font-size="23" text-anchor="end" fill="#1c1c1c" stroke="#1c1c1c" stroke-width="0.12" transform="translate(89.80,429.05) scale(1.06,1)">0.5</text>
<text x="0" y="0" font-size="23" text-anchor="end" fill="#1c1c1c" stroke="#1c1c1c" stroke-width="0.12" transform="translate(89.80,358.05) scale(1.06,1)">1</text>
<text x="0" y="0" font-size="23" text-anchor="end" fill="#1c1c1c" stroke="#1c1c1c" stroke-width="0.12" transform="translate(89.80,288.15) scale(1.06,1)">1.5</text>
<text x="0" y="0" font-size="23" text-anchor="end" fill="#1c1c1c" stroke="#1c1c1c" stroke-width="0.12" transform="translate(89.80,216.55) scale(1.06,1)">2</text>
<text x="0" y="0" font-size="23" text-anchor="end" fill="#1c1c1c" stroke="#1c1c1c" stroke-width="0.12" transform="translate(89.80,144.65) scale(1.06,1)">2.5</text>
<text x="0" y="0" font-size="23" text-anchor="middle" fill="#1c1c1c" stroke="#1c1c1c" stroke-width="0.12" transform="translate(76.80,531.60) scale(1.06,1)">76</text>
<text x="0" y="0" font-size="23" text-anchor="middle" fill="#1c1c1c" stroke="#1c1c1c" stroke-width="0.12" transform="translate(155.25,569.30) scale(1.06,1)">74</text>
<text x="0" y="0" font-size="23" text-anchor="middle" fill="#1c1c1c" stroke="#1c1c1c" stroke-width="0.12" transform="translate(233.00,605.25) scale(1.06,1)">72</text>
<text x="0" y="0" font-size="23" text-anchor="middle" fill="#1c1c1c" stroke="#1c1c1c" stroke-width="0.12" transform="translate(312.00,640.55) scale(1.06,1)">70</text>
<text x="0" y="0" font-size="23" text-anchor="middle" fill="#1c1c1c" stroke="#1c1c1c" stroke-width="0.12" transform="translate(391.90,676.75) scale(1.06,1)">68</text>
<text x="0" y="0" font-size="23" text-anchor="middle" fill="#1c1c1c" stroke="#1c1c1c" stroke-width="0.12" transform="translate(494.40,699.55) scale(1.06,1)">0</text>
<text x="0" y="0" font-size="23" text-anchor="middle" fill="#1c1c1c" stroke="#1c1c1c" stroke-width="0.12" transform="translate(660.60,654.15) scale(1.06,1)">5</text>
<text x="0" y="0" font-size="23" text-anchor="middle" fill="#1c1c1c" stroke="#1c1c1c" stroke-width="0.12" transform="translate(832.00,608.55) scale(1.06,1)">10</text>
<text x="83.00" y="696.30" font-size="27.8" text-anchor="start" fill="#1c1c1c" stroke="#1c1c1c" stroke-width="0.12" >Monitoring time(h)</text>
<text x="553.20" y="732.80" font-size="27.8" text-anchor="start" fill="#1c1c1c" stroke="#1c1c1c" stroke-width="0.12" >Remaining useful life(h)</text>
<text x="0" y="0" font-size="27.8" text-anchor="start" fill="#1c1c1c" stroke="#1c1c1c" stroke-width="0.12" transform="translate(37.5,576) rotate(-90)">Probability density of remaining useful life</text>
<text x="374.60" y="268.00" font-size="25.1" text-anchor="start" fill="#1c1c1c" stroke="#1c1c1c" stroke-width="0.12" >Time-varying KDE MTTF</text>
<text x="570.60" y="378.90" font-size="25.1" text-anchor="start" fill="#1c1c1c" stroke="#1c1c1c" stroke-width="0.12" >Actual RUL</text>
<line x1="514.00" y1="274.00" x2="427.70" y2="506.00" stroke="#000" stroke-width="1.6"/><polygon points="421.20,523.00 420.60,495.80 427.70,506.00 440.20,502.60" fill="#000"/>
<line x1="633.80" y1="385.00" x2="598.60" y2="512.40" stroke="#000" stroke-width="1.6"/><polygon points="593.00,532.80 589.80,505.50 598.60,512.40 611.00,509.80" fill="#000"/>
</g>
</svg>
</body></html>
